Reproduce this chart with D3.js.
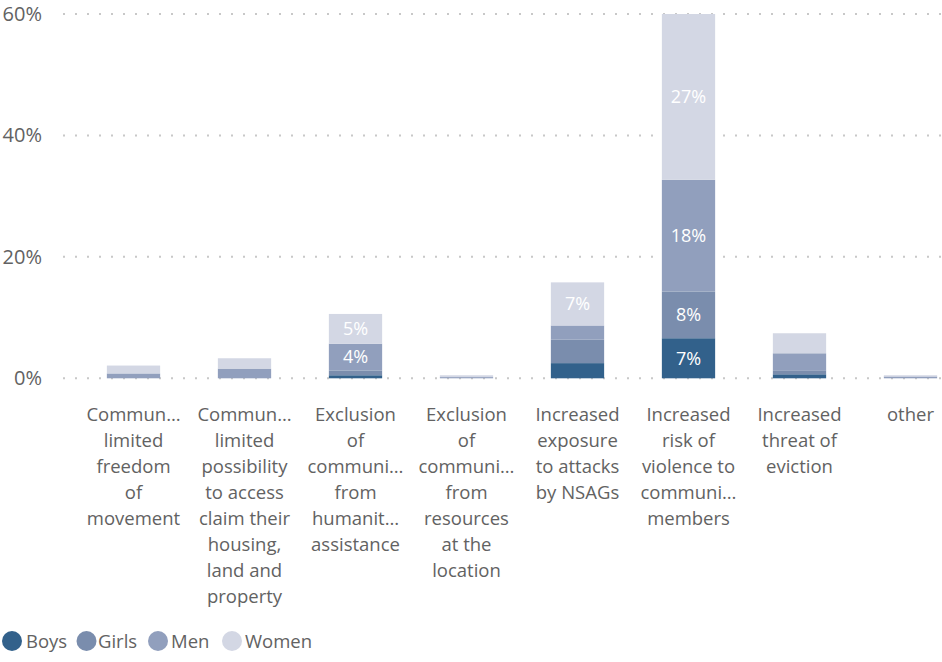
<!DOCTYPE html>
<html>
<head>
<meta charset="utf-8">
<script src="https://cdn.jsdelivr.net/npm/d3@7"></script>
<style>
  html, body { margin: 0; padding: 0; background: #fff; }
  svg { display: block; font-family: "Open Sans", "Noto Sans", sans-serif; }
</style>
</head>
<body>
<svg id="chart" width="942" height="662"></svg>
<script>
// Category labels, one entry per line as shown under each bar
const categories = [
  ["Commun…", "limited", "freedom", "of", "movement"],
  ["Commun…", "limited", "possibility", "to access", "claim their", "housing,", "land and", "property"],
  ["Exclusion", "of", "communi…", "from", "humanit…", "assistance"],
  ["Exclusion", "of", "communi…", "from", "resources", "at the", "location"],
  ["Increased", "exposure", "to attacks", "by NSAGs"],
  ["Increased", "risk of", "violence to", "communi…", "members"],
  ["Increased", "threat of", "eviction"],
  ["other"]
];

// Share of respondents (%) per group
const seriesNames = ["Boys", "Girls", "Men", "Women"];
const boys  = [0,   0,   0.5, 0,   2.5, 6.6,  0.66, 0];
const girls = [0,   0,   0.8, 0,   3.9, 7.7,  0.66, 0];
const men   = [0.8, 1.6, 4.4, 0.2, 2.3, 18.4, 2.8,  0.3];
const women = [1.3, 1.7, 4.9, 0.3, 7.1, 27.3, 3.3,  0.2];

const yTicks = [0, 20, 40, 60];
const colors = ["#32618b", "#7a8dad", "#919fbd", "#d3d7e4"];

const rows = categories.map((c, i) => ({
  idx: i, Boys: boys[i], Girls: girls[i], Men: men[i], Women: women[i]
}));

const svg = d3.select("#chart");
const textColor = "#626262";

const x = d3.scaleBand()
  .domain(d3.range(categories.length))
  .range([78, 966])
  .paddingInner(0.52)
  .paddingOuter(0.26);

const y = d3.scaleLinear().domain([0, 60]).range([378.3, 14]);

const color = d3.scaleOrdinal().domain(seriesNames).range(colors);

// Dotted gridlines
svg.append("g")
  .selectAll("line")
  .data(yTicks)
  .join("line")
  .attr("x1", 63).attr("x2", 942)
  .attr("y1", d => y(d)).attr("y2", d => y(d))
  .attr("stroke", "#c8c8c8")
  .attr("stroke-width", 2)
  .attr("stroke-dasharray", "2 10");

// Y axis labels
const yAxis = d3.axisLeft(y).tickValues(yTicks).tickFormat(d => d + "%").tickSize(0).tickPadding(0);
const yg = svg.append("g").attr("transform", "translate(42,0)").call(yAxis);
yg.select(".domain").remove();
yg.selectAll("text")
  .attr("fill", textColor)
  .style("font-size", "20px")
  .style("font-family", "'Open Sans', 'Noto Sans', sans-serif");

// Stacked bars
const stacked = d3.stack().keys(seriesNames)(rows);

const layers = svg.append("g")
  .selectAll("g")
  .data(stacked)
  .join("g")
  .attr("fill", d => color(d.key));

layers.selectAll("rect")
  .data(d => d)
  .join("rect")
  .attr("x", d => x(d.data.idx))
  .attr("width", x.bandwidth())
  .attr("y", d => y(d[1]))
  .attr("height", d => y(d[0]) - y(d[1]));

// Value labels inside segments large enough to hold them
const labelData = [];
stacked.forEach(layer => {
  layer.forEach(seg => {
    const v = seg[1] - seg[0];
    if (v >= 4) labelData.push({ idx: seg.data.idx, lo: seg[0], hi: seg[1], v });
  });
});

svg.append("g")
  .selectAll("text")
  .data(labelData)
  .join("text")
  .attr("x", d => x(d.idx) + x.bandwidth() / 2)
  .attr("y", d => (y(d.lo) + y(d.hi)) / 2)
  .attr("dy", "0.35em")
  .attr("text-anchor", "middle")
  .attr("fill", "#ffffff")
  .style("font-size", "18px")
  .text(d => Math.round(d.v) + "%");

// Category labels
const catG = svg.append("g")
  .selectAll("text")
  .data(categories)
  .join("text")
  .attr("text-anchor", "middle")
  .attr("fill", textColor)
  .style("font-size", "18.5px");

catG.selectAll("tspan")
  .data((lines, i) => lines.map(l => ({ l, i })))
  .join("tspan")
  .attr("x", d => x(d.i) + x.bandwidth() / 2)
  .attr("y", (d, j) => 421 + j * 26)
  .text(d => d.l);

// Legend
const legendX = [12, 86.5, 158, 232];
const legend = svg.append("g")
  .selectAll("g")
  .data(seriesNames)
  .join("g")
  .attr("transform", (d, i) => `translate(${legendX[i]},641)`);

legend.append("circle")
  .attr("r", 10)
  .attr("fill", d => color(d));

legend.append("text")
  .attr("x", (d, i) => [14, 11.5, 13, 13][i])
  .attr("y", 6.5)
  .attr("fill", textColor)
  .style("font-size", "18.5px")
  .text(d => d);
</script>
</body>
</html>
